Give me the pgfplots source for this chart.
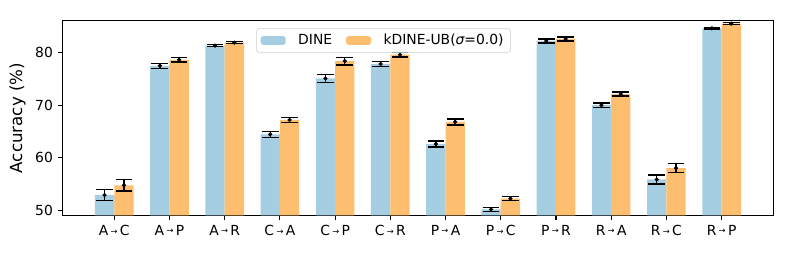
\documentclass[border=0pt]{standalone}
\usepackage{pgfplots}
\pgfplotsset{compat=1.18}
\usepackage{pgfplotstable}
\usepackage{fontspec}
\setmainfont{DejaVu Sans}
\usepackage{graphicx}
\definecolor{cblue}{HTML}{A6CEE3}
\definecolor{corange}{HTML}{FDBF6F}
\newcommand{\ar}{\,\raisebox{0.1em}{\scalebox{0.6}{→}}\,}

\pgfplotstableread{
x d de k ke
0 52.95 1.05 54.80 1.10
1 77.47 0.48 78.60 0.40
2 81.28 0.20 81.85 0.20
3 64.47 0.55 67.19 0.50
4 75.06 0.73 78.36 0.73
5 77.80 0.45 79.56 0.45
6 62.62 0.57 66.81 0.57
7 50.22 0.36 52.28 0.35
8 82.17 0.38 82.55 0.38
9 69.99 0.38 72.08 0.38
10 55.90 0.85 58.05 0.85
11 84.57 0.15 85.47 0.20
}\data

\begin{document}
\begin{tikzpicture}
\useasboundingbox (0,0) rectangle (568.08pt,189.36pt);
\begin{axis}[
  at={(45.1pt,34.3pt)}, anchor=south west,
  scale only axis, width=511.6pt, height=140.1pt,
  xmin=-0.935, xmax=11.935, ymin=49.1, ymax=86.0,
  xtick={0,...,11},
  xticklabels={A\ar C, A\ar P, A\ar R, C\ar A, C\ar P, C\ar R, P\ar A, P\ar C, P\ar R, R\ar A, R\ar C, R\ar P},
  ytick={50,60,70,80},
  tick align=outside, tick pos=left,
  major tick length=3.5pt,
  tick style={black, line width=0.8pt},
  axis line style={line width=0.8pt},
  /pgf/number format/assume math mode=true,
  tick label style={font=\fontsize{10}{12}\selectfont},
  ylabel={Accuracy (\%)},
  ylabel style={font=\fontsize{12}{14}\selectfont},
  legend columns=2,
  legend style={at={(0.2725,0.961)}, anchor=north west, draw=black!20, rounded corners=2pt,
    font=\fontsize{10}{12}\selectfont, inner xsep=3pt, inner ysep=2pt,
    /tikz/every even column/.append style={column sep=8pt}},
  legend image code/.code={\fill[#1, draw=none] (0pt,-3.2pt) rectangle (18pt,3.2pt); \path (25pt,0pt);},
]
\addplot[ybar, bar width=0.35, bar shift=-0.175, fill=cblue, draw=none] table[x=x,y=d]{\data};
\addlegendentry{DINE}
\addplot[ybar, bar width=0.35, bar shift=0.175, fill=corange, draw=none] table[x=x,y=k]{\data};
\addlegendentry{kDINE-UB({\itshape σ}=0.0)}
\addplot[only marks, mark=*, mark size=1.3pt, black, forget plot,
  error bars/.cd, y dir=both, y explicit, error mark=|,
  error mark options={black, line width=1pt, mark size=6pt},
  error bar style={line width=1pt, black}]
  table[x expr=\thisrow{x}-0.175, y=d, y error=de]{\data};
\addplot[only marks, mark=*, mark size=1.3pt, black, forget plot,
  error bars/.cd, y dir=both, y explicit, error mark=|,
  error mark options={black, line width=1pt, mark size=6pt},
  error bar style={line width=1pt, black}]
  table[x expr=\thisrow{x}+0.175, y=k, y error=ke]{\data};
\end{axis}
\end{tikzpicture}
\end{document}
